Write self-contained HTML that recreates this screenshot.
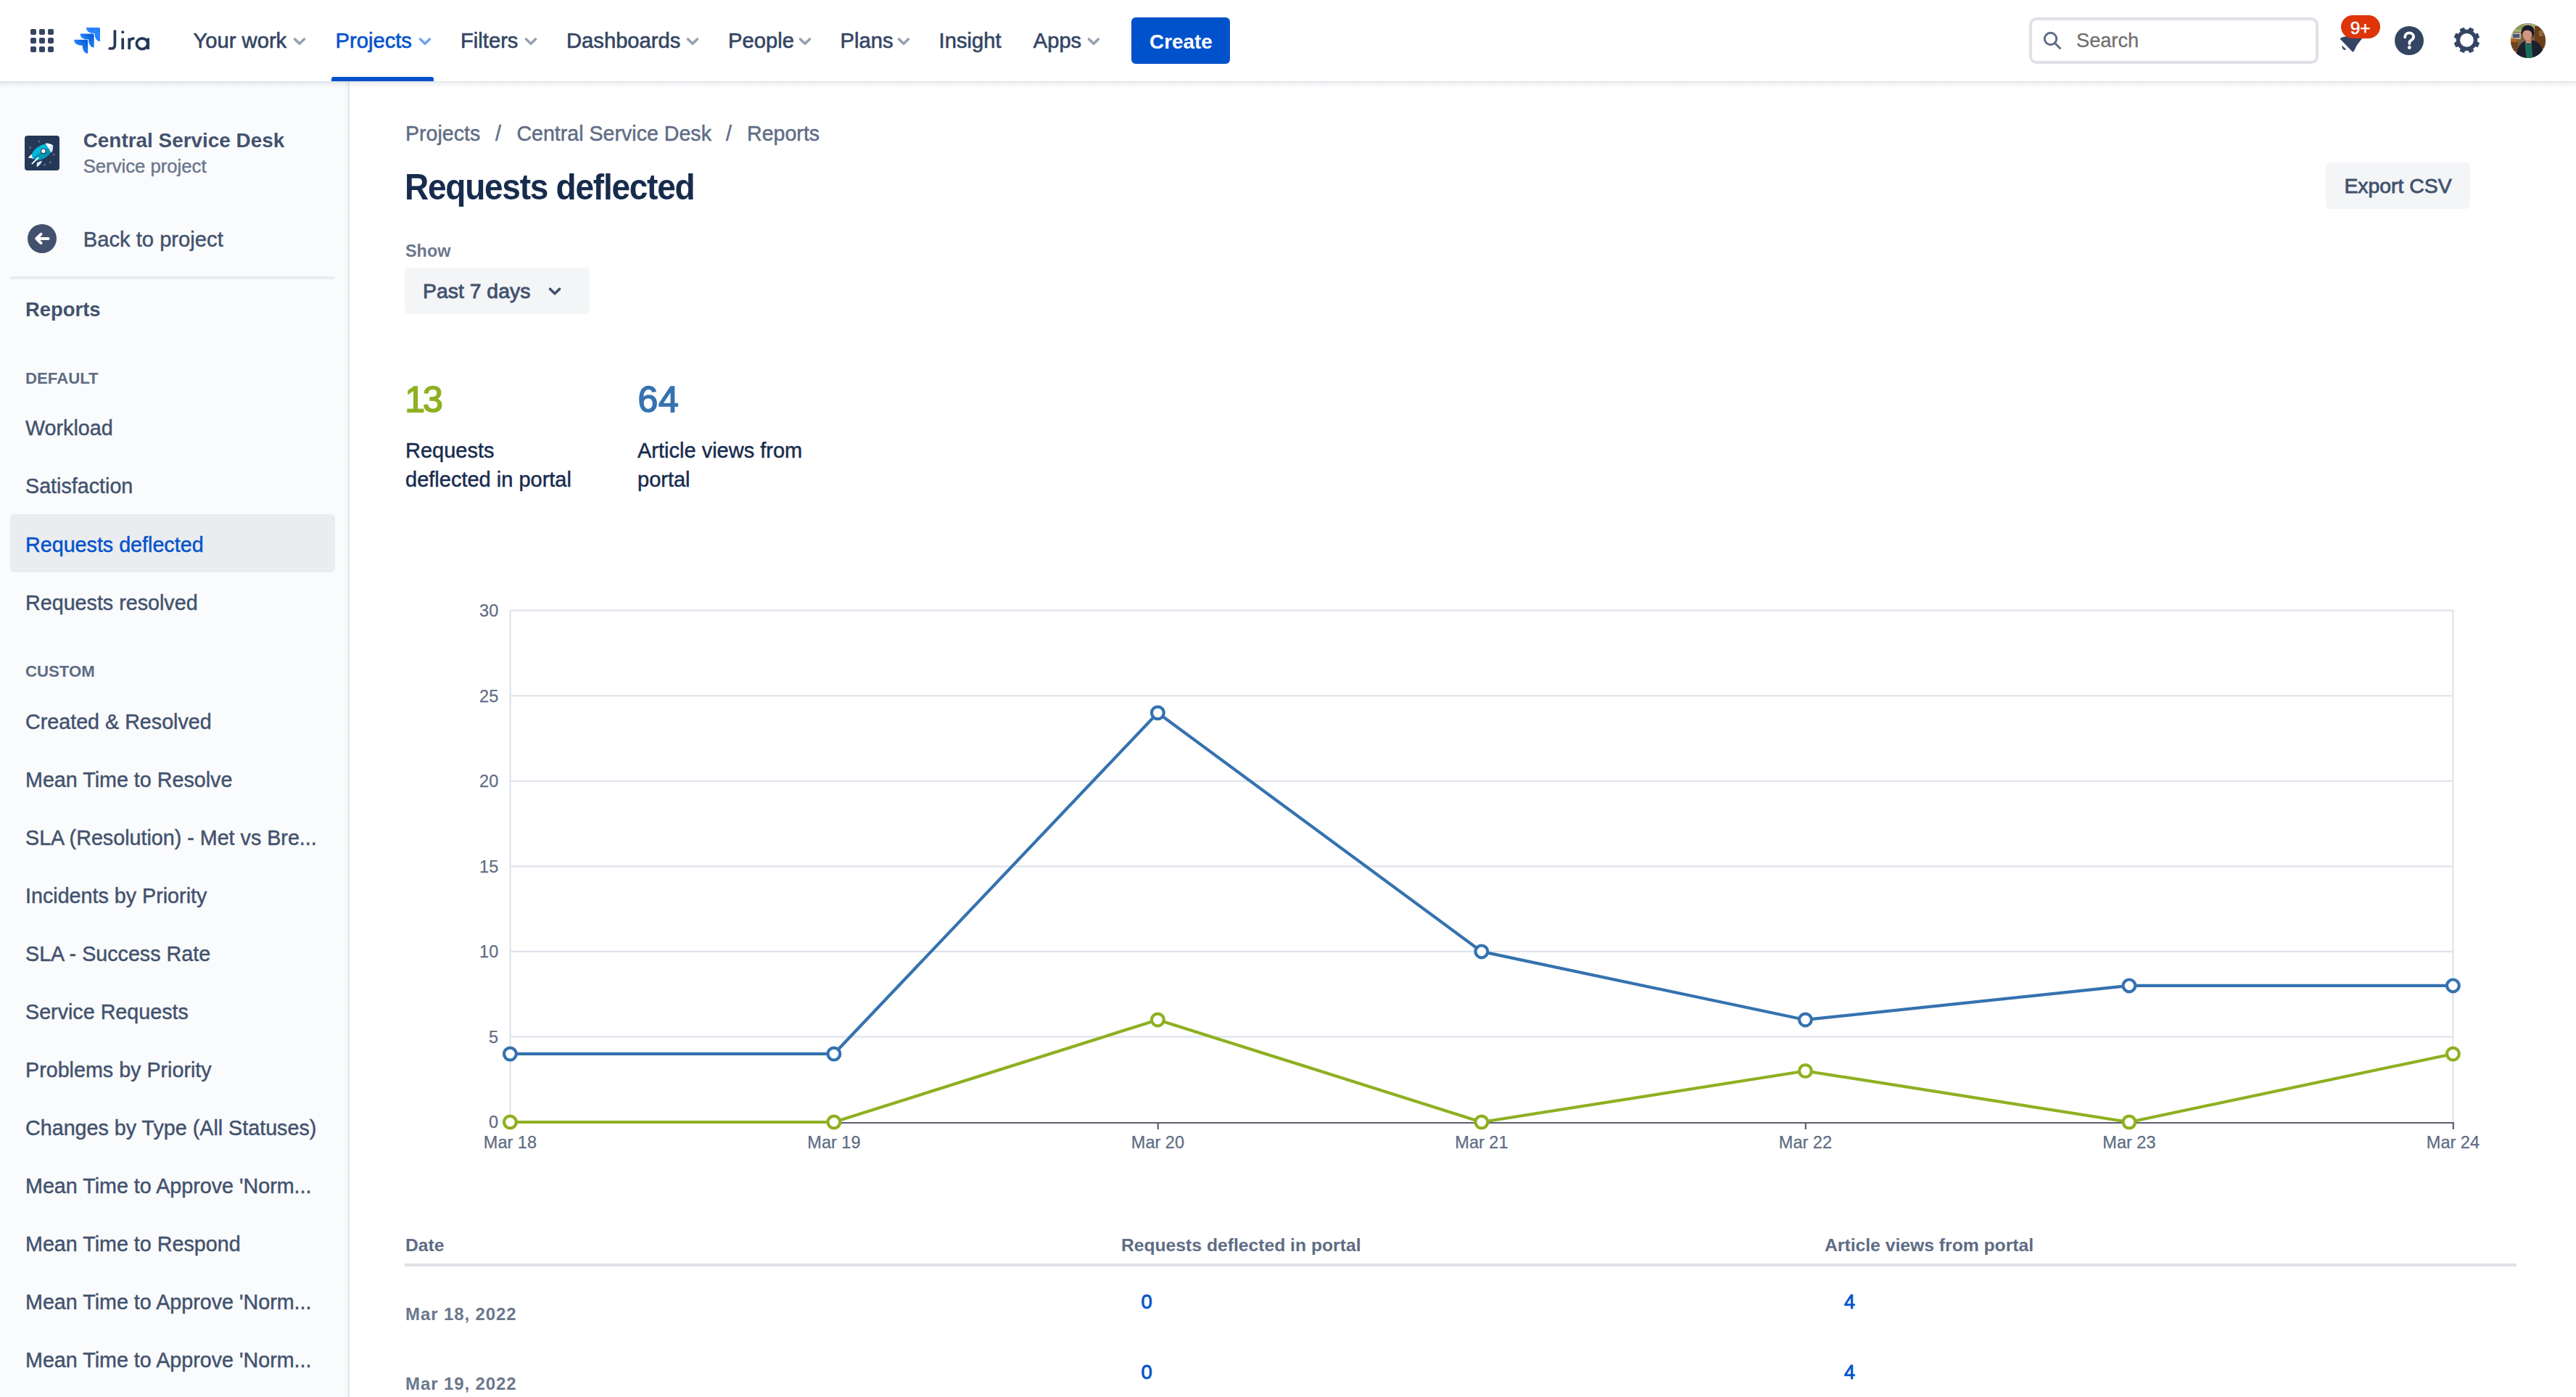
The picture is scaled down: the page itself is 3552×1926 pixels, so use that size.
<!DOCTYPE html>
<html><head><meta charset="utf-8"><title>Requests deflected - Jira</title>
<style>
html,body{margin:0;padding:0;width:3552px;height:1926px;overflow:hidden;background:#fff;}
body{position:relative;font-family:"Liberation Sans",sans-serif;}
.t{position:absolute;white-space:nowrap;}
.a{position:absolute;}
</style></head><body>
<div class="a" style="left:0;top:112px;width:480px;height:1814px;background:#FAFBFC;"></div>
<div class="a" style="left:474px;top:112px;width:6px;height:1814px;background:linear-gradient(to right,rgba(9,30,66,0),rgba(9,30,66,0.03));"></div>
<div class="a" style="left:480px;top:112px;width:2px;height:1814px;background:#E4E6EA;"></div>
<div class="a" style="left:0;top:0;width:3552px;height:112px;background:#fff;"></div>
<div class="a" style="left:0;top:112px;width:3552px;height:9px;background:linear-gradient(to bottom,rgba(9,30,66,0.13),rgba(9,30,66,0.06) 30%,rgba(9,30,66,0));"></div>
<div class="a" style="left:42px;top:40px;width:8px;height:8px;border-radius:2px;background:#344563;"></div>
<div class="a" style="left:54px;top:40px;width:8px;height:8px;border-radius:2px;background:#344563;"></div>
<div class="a" style="left:66px;top:40px;width:8px;height:8px;border-radius:2px;background:#344563;"></div>
<div class="a" style="left:42px;top:52px;width:8px;height:8px;border-radius:2px;background:#344563;"></div>
<div class="a" style="left:54px;top:52px;width:8px;height:8px;border-radius:2px;background:#344563;"></div>
<div class="a" style="left:66px;top:52px;width:8px;height:8px;border-radius:2px;background:#344563;"></div>
<div class="a" style="left:42px;top:64px;width:8px;height:8px;border-radius:2px;background:#344563;"></div>
<div class="a" style="left:54px;top:64px;width:8px;height:8px;border-radius:2px;background:#344563;"></div>
<div class="a" style="left:66px;top:64px;width:8px;height:8px;border-radius:2px;background:#344563;"></div>
<svg class="a" style="left:96px;top:32px;" width="50" height="48" viewBox="96 32 50 48"><defs><linearGradient id="jg" x1="1" y1="0" x2="0.35" y2="0.6"><stop offset="0" stop-color="#0052CC"/><stop offset="1" stop-color="#2684FF"/></linearGradient></defs><path transform="translate(119,38)" d="M0,0 L17.5,0 Q19,0 19,1.5 L19,19 C14,19 11.5,14 11.5,8 C4,8 0,5 0,0 Z" fill="#2684FF"/><path transform="translate(110.6,46.4)" d="M0,0 L17.5,0 Q19,0 19,1.5 L19,19 C14,19 11.5,14 11.5,8 C4,8 0,5 0,0 Z" fill="url(#jg)"/><path transform="translate(102.2,54.8)" d="M0,0 L17.5,0 Q19,0 19,1.5 L19,19 C14,19 11.5,14 11.5,8 C4,8 0,5 0,0 Z" fill="url(#jg)"/></svg>
<svg class="a" style="left:146px;top:36px;" width="66" height="40" viewBox="146 36 66 40" fill="none" stroke="#253858" stroke-width="3.7"><path d="M158.4,41.5 V61.5 C158.4,65.5 156,67 153.5,67 C152,67 150.8,66.6 150,66"/><path d="M169.2,52.5 V68"/><circle cx="169.2" cy="44.2" r="2" fill="#253858" stroke="none"/><path d="M178.2,68 V52.5 M178.2,57.5 C179.5,54 182,52.8 185.5,53"/><path d="M204.2,52.5 V68"/><ellipse cx="196" cy="60.2" rx="7.6" ry="7.4"/></svg>
<div class="t" style="left:266.50px;top:38.80px;font-size:29.2px;line-height:35px;color:#344563;-webkit-text-stroke:0.6px #344563;">Your work</div>
<svg class="a" style="left:403px;top:50px;" width="20" height="14" viewBox="0 0 20 14"><path d="M3.5,4 L10,10.2 L16.5,4" fill="none" stroke="#97A0AF" stroke-width="3.6" stroke-linecap="round" stroke-linejoin="round"/></svg>
<div class="t" style="left:462.50px;top:38.80px;font-size:29.2px;line-height:35px;color:#0052CC;-webkit-text-stroke:0.6px #0052CC;">Projects</div>
<svg class="a" style="left:576px;top:50px;" width="20" height="14" viewBox="0 0 20 14"><path d="M3.5,4 L10,10.2 L16.5,4" fill="none" stroke="#70A4F0" stroke-width="3.6" stroke-linecap="round" stroke-linejoin="round"/></svg>
<div class="t" style="left:635.00px;top:38.80px;font-size:29.2px;line-height:35px;color:#344563;-webkit-text-stroke:0.6px #344563;">Filters</div>
<svg class="a" style="left:721.6px;top:50px;" width="20" height="14" viewBox="0 0 20 14"><path d="M3.5,4 L10,10.2 L16.5,4" fill="none" stroke="#97A0AF" stroke-width="3.6" stroke-linecap="round" stroke-linejoin="round"/></svg>
<div class="t" style="left:781.00px;top:38.80px;font-size:29.2px;line-height:35px;color:#344563;-webkit-text-stroke:0.6px #344563;">Dashboards</div>
<svg class="a" style="left:945px;top:50px;" width="20" height="14" viewBox="0 0 20 14"><path d="M3.5,4 L10,10.2 L16.5,4" fill="none" stroke="#97A0AF" stroke-width="3.6" stroke-linecap="round" stroke-linejoin="round"/></svg>
<div class="t" style="left:1004.00px;top:38.80px;font-size:29.2px;line-height:35px;color:#344563;-webkit-text-stroke:0.6px #344563;">People</div>
<svg class="a" style="left:1100px;top:50px;" width="20" height="14" viewBox="0 0 20 14"><path d="M3.5,4 L10,10.2 L16.5,4" fill="none" stroke="#97A0AF" stroke-width="3.6" stroke-linecap="round" stroke-linejoin="round"/></svg>
<div class="t" style="left:1158.60px;top:38.80px;font-size:29.2px;line-height:35px;color:#344563;-webkit-text-stroke:0.6px #344563;">Plans</div>
<svg class="a" style="left:1236px;top:50px;" width="20" height="14" viewBox="0 0 20 14"><path d="M3.5,4 L10,10.2 L16.5,4" fill="none" stroke="#97A0AF" stroke-width="3.6" stroke-linecap="round" stroke-linejoin="round"/></svg>
<div class="t" style="left:1294.60px;top:38.80px;font-size:29.2px;line-height:35px;color:#344563;-webkit-text-stroke:0.6px #344563;">Insight</div>
<div class="t" style="left:1424.70px;top:38.80px;font-size:29.2px;line-height:35px;color:#344563;-webkit-text-stroke:0.6px #344563;">Apps</div>
<svg class="a" style="left:1498px;top:50px;" width="20" height="14" viewBox="0 0 20 14"><path d="M3.5,4 L10,10.2 L16.5,4" fill="none" stroke="#97A0AF" stroke-width="3.6" stroke-linecap="round" stroke-linejoin="round"/></svg>
<div class="a" style="left:457px;top:106px;width:141px;height:6px;background:#0052CC;border-radius:3px 3px 0 0;"></div>
<div class="a" style="left:1560px;top:24px;width:136px;height:64px;background:#0052CC;border-radius:6px;"></div>
<div class="t" style="left:1585.00px;top:40.60px;font-size:27.9px;line-height:33px;color:#FFFFFF;font-weight:700;">Create</div>
<div class="a" style="left:2798px;top:24px;width:391px;height:56px;border:4px solid #DFE1E6;border-radius:10px;background:#fff;"></div>
<svg class="a" style="left:2814px;top:40px;" width="32" height="32" viewBox="0 0 32 32"><circle cx="13.5" cy="13.5" r="8.2" fill="none" stroke="#5E6C84" stroke-width="3"/><path d="M19.5,19.5 L26.5,26.5" stroke="#5E6C84" stroke-width="3" stroke-linecap="round"/></svg>
<div class="t" style="left:2863.00px;top:39.00px;font-size:27.2px;line-height:33px;color:#707070;-webkit-text-stroke:0.3px #707070;">Search</div>
<svg class="a" style="left:3215px;top:15px;" width="80" height="70" viewBox="3215 15 80 70"><path d="M3226.3,53.3 C3232,50 3238,49.5 3244,50 L3257,53 C3254.5,57 3251,60 3249,64 C3247.5,67 3246.5,70 3245,71.3 C3244.5,71.8 3244,71.6 3243.6,71.2 Z" fill="#344563"/><path d="M3230.2,62 C3229,64 3229.3,66.5 3231,68 C3232.5,69.2 3234.5,69 3236,68 Z" fill="#344563"/><path d="M3229,61 L3237,69" stroke="#fff" stroke-width="1.6"/></svg>
<div class="a" style="left:3228px;top:21px;width:54px;height:32px;border-radius:16px;background:#DE350B;"></div>
<div class="t" style="left:3240.80px;top:23.60px;font-size:24.4px;line-height:29px;color:#FFFFFF;-webkit-text-stroke:0.5px #FFFFFF;">9+</div>
<svg class="a" style="left:3300px;top:34px;" width="44" height="44" viewBox="0 0 44 44"><circle cx="22" cy="22" r="20" fill="#344563"/><path d="M16.2,17.2 C16.2,13.6 18.8,11.3 22.2,11.3 C25.6,11.3 28,13.5 28,16.6 C28,19.4 26.4,20.6 24.6,21.6 C23.2,22.4 22.4,23.2 22.4,24.8 V26" fill="none" stroke="#fff" stroke-width="3.8" stroke-linecap="round"/><circle cx="22.3" cy="31.5" r="2.4" fill="#fff"/></svg>
<svg class="a" style="left:3375px;top:30px;" width="55" height="50" viewBox="3375 30 55 50"><path d="M3401.40,41.20 L3404.06,41.04 L3405.36,38.25 L3410.73,40.47 L3409.67,43.37 L3411.44,45.36 L3411.44,45.36 L3413.43,47.13 L3416.33,46.07 L3418.55,51.44 L3415.76,52.74 L3415.60,55.40 L3415.60,55.40 L3415.76,58.06 L3418.55,59.36 L3416.33,64.73 L3413.43,63.67 L3411.44,65.44 L3411.44,65.44 L3409.67,67.43 L3410.73,70.33 L3405.36,72.55 L3404.06,69.76 L3401.40,69.60 L3401.40,69.60 L3398.74,69.76 L3397.44,72.55 L3392.07,70.33 L3393.13,67.43 L3391.36,65.44 L3391.36,65.44 L3389.37,63.67 L3386.47,64.73 L3384.25,59.36 L3387.04,58.06 L3387.20,55.40 L3387.20,55.40 L3387.04,52.74 L3384.25,51.44 L3386.47,46.07 L3389.37,47.13 L3391.36,45.36 L3391.36,45.36 L3393.13,43.37 L3392.07,40.47 L3397.44,38.25 L3398.74,41.04 L3401.40,41.20 Z M3411.20,55.4 A9.8,9.8 0 1,0 3391.60,55.4 A9.8,9.8 0 1,0 3411.20,55.4 Z" fill="#344563" fill-rule="evenodd" stroke="#344563" stroke-width="1" stroke-linejoin="round"/></svg>
<svg class="a" style="left:3462px;top:32px;" width="48" height="48" viewBox="0 0 48 48"><defs><clipPath id="av"><circle cx="24" cy="24" r="24"/></clipPath></defs><g clip-path="url(#av)"><rect width="48" height="48" fill="#7A6240"/><rect x="0" y="0" width="48" height="12" fill="#A9AE78"/><rect x="8" y="0" width="10" height="9" fill="#8C9A5A"/><rect x="0" y="13" width="14" height="9" fill="#B8B09A"/><rect x="3" y="15" width="9" height="5" fill="#4A5A70"/><ellipse cx="4" cy="23.5" rx="5" ry="2.6" fill="#B8601A"/><rect x="0" y="26" width="10" height="12" fill="#6B4420"/><rect x="33" y="4" width="15" height="30" fill="#6A3E18"/><rect x="39" y="10" width="6" height="8" fill="#8A6A40"/><path d="M7,48 C8,36 12,28 19.5,24.5 L30,23.5 C38,25 43,31 46,42 L46,48 Z" fill="#1C1F30"/><path d="M20.5,21 L28.5,21 L28.5,28 L20.5,28 Z" fill="#C08A74"/><path d="M19.5,27 L24,29.5 L28.5,27 L30.5,48 L21.5,48 Z" fill="#1B6E5A"/><ellipse cx="22.8" cy="15.3" rx="6.2" ry="8.4" fill="#D19782"/><path d="M14.8,15 C14,7.5 17.5,2.8 23.5,2.8 C29.5,2.8 33,6.5 32.6,13 C32.4,16.5 31.2,19.5 30,19.5 C30,13.5 28,9.8 23,9.8 C18.8,9.8 16.8,11.5 16,15.5 Z" fill="#1A1C2A"/></g></svg>
<svg class="a" style="left:34px;top:187px;" width="48" height="48" viewBox="0 0 48 48"><rect width="48" height="48" rx="4" fill="#253858"/><g fill="#5E6C84"><circle cx="20" cy="7.9" r="1.5"/><circle cx="7.7" cy="16.5" r="1.5"/><circle cx="40.2" cy="26" r="1.5"/><circle cx="35.4" cy="36.7" r="1.5"/><circle cx="27.5" cy="40" r="1.5"/></g><path d="M4.7,31 C6.5,28 9,25.8 12.8,24.3 L12,32.2 C9.5,30.9 7,30.6 4.7,31 Z" fill="#fff"/><path d="M16.8,43.4 C16.4,40.5 16.6,38.6 17.4,37 L24,34.6 C23,38.3 20.6,41.4 16.8,43.4 Z" fill="#DEEBFF"/><g transform="rotate(-32 24.6 22.3)"><path d="M8.6,22.3 C8.6,16.2 15.5,13.4 24,13.4 C31.5,13.4 37.5,16.5 41.6,22.3 Z" fill="#00B8D9"/><path d="M8.6,22.3 C8.6,28.4 15.5,31.2 24,31.2 C31.5,31.2 37.5,28.1 41.6,22.3 Z" fill="#0095B3"/><path d="M34.2,14.6 C37.3,16 39.7,18.5 41.6,22.3 L34.2,22.3 Z" fill="#fff"/><path d="M34.2,30 C37.3,28.6 39.7,26.1 41.6,22.3 L34.2,22.3 Z" fill="#DEEBFF"/></g><path d="M9.2,38.6 L18.2,29.2 L20,30.8 L10.6,39.8 Z" fill="#EAF2FF"/><circle cx="25.8" cy="21.3" r="3.3" fill="#fff" stroke="#253858" stroke-width="1.1"/></svg>
<div class="t" style="left:114.70px;top:176.70px;font-size:27.9px;line-height:33px;color:#42526E;font-weight:700;">Central Service Desk</div>
<div class="t" style="left:114.70px;top:214.00px;font-size:25.7px;line-height:31px;color:#6B778C;-webkit-text-stroke:0.45px #6B778C;">Service project</div>
<svg class="a" style="left:38px;top:309px;" width="40" height="40" viewBox="0 0 40 40"><circle cx="20" cy="20" r="20" fill="#42526E"/><path d="M28.5,20 H12.5 M18.5,13.8 L12.3,20 L18.5,26.2" fill="none" stroke="#fff" stroke-width="4" stroke-linecap="round" stroke-linejoin="round"/></svg>
<div class="t" style="left:114.70px;top:312.50px;font-size:29.2px;line-height:35px;color:#42526E;-webkit-text-stroke:0.45px #42526E;">Back to project</div>
<div class="a" style="left:14px;top:381px;width:448px;height:4px;border-radius:2px;background:#EBECF0;"></div>
<div class="t" style="left:35.00px;top:409.70px;font-size:27.4px;line-height:33px;color:#42526E;font-weight:700;">Reports</div>
<div class="t" style="left:35.00px;top:508.30px;font-size:22.2px;line-height:27px;color:#5E6C84;font-weight:700;">DEFAULT</div>
<div class="a" style="left:14px;top:709px;width:448px;height:80px;border-radius:6px;background:#EBECF0;"></div>
<div class="t" style="left:35.00px;top:573.30px;font-size:28.7px;line-height:34px;color:#42526E;-webkit-text-stroke:0.45px #42526E;">Workload</div>
<div class="t" style="left:35.00px;top:653.47px;font-size:28.7px;line-height:34px;color:#42526E;-webkit-text-stroke:0.45px #42526E;">Satisfaction</div>
<div class="t" style="left:35.00px;top:733.64px;font-size:28.7px;line-height:34px;color:#0052CC;-webkit-text-stroke:0.45px #0052CC;">Requests deflected</div>
<div class="t" style="left:35.00px;top:813.81px;font-size:28.7px;line-height:34px;color:#42526E;-webkit-text-stroke:0.45px #42526E;">Requests resolved</div>
<div class="t" style="left:35.00px;top:912.00px;font-size:22.2px;line-height:27px;color:#5E6C84;font-weight:700;">CUSTOM</div>
<div class="t" style="left:35.00px;top:977.60px;font-size:28.7px;line-height:34px;color:#42526E;-webkit-text-stroke:0.45px #42526E;">Created &amp; Resolved</div>
<div class="t" style="left:35.00px;top:1057.60px;font-size:28.7px;line-height:34px;color:#42526E;-webkit-text-stroke:0.45px #42526E;">Mean Time to Resolve</div>
<div class="t" style="left:35.00px;top:1137.60px;font-size:28.7px;line-height:34px;color:#42526E;-webkit-text-stroke:0.45px #42526E;">SLA (Resolution) - Met vs Bre...</div>
<div class="t" style="left:35.00px;top:1217.60px;font-size:28.7px;line-height:34px;color:#42526E;-webkit-text-stroke:0.45px #42526E;">Incidents by Priority</div>
<div class="t" style="left:35.00px;top:1297.60px;font-size:28.7px;line-height:34px;color:#42526E;-webkit-text-stroke:0.45px #42526E;">SLA - Success Rate</div>
<div class="t" style="left:35.00px;top:1377.60px;font-size:28.7px;line-height:34px;color:#42526E;-webkit-text-stroke:0.45px #42526E;">Service Requests</div>
<div class="t" style="left:35.00px;top:1457.60px;font-size:28.7px;line-height:34px;color:#42526E;-webkit-text-stroke:0.45px #42526E;">Problems by Priority</div>
<div class="t" style="left:35.00px;top:1537.60px;font-size:28.7px;line-height:34px;color:#42526E;-webkit-text-stroke:0.45px #42526E;">Changes by Type (All Statuses)</div>
<div class="t" style="left:35.00px;top:1617.60px;font-size:28.7px;line-height:34px;color:#42526E;-webkit-text-stroke:0.45px #42526E;">Mean Time to Approve &#x27;Norm...</div>
<div class="t" style="left:35.00px;top:1697.60px;font-size:28.7px;line-height:34px;color:#42526E;-webkit-text-stroke:0.45px #42526E;">Mean Time to Respond</div>
<div class="t" style="left:35.00px;top:1777.60px;font-size:28.7px;line-height:34px;color:#42526E;-webkit-text-stroke:0.45px #42526E;">Mean Time to Approve &#x27;Norm...</div>
<div class="t" style="left:35.00px;top:1857.60px;font-size:28.7px;line-height:34px;color:#42526E;-webkit-text-stroke:0.45px #42526E;">Mean Time to Approve &#x27;Norm...</div>
<div class="t" style="left:559.00px;top:166.80px;font-size:28.6px;line-height:34px;color:#5E6C84;-webkit-text-stroke:0.45px #5E6C84;">Projects</div>
<div class="t" style="left:683.00px;top:166.80px;font-size:28.6px;line-height:34px;color:#5E6C84;-webkit-text-stroke:0.45px #5E6C84;">/</div>
<div class="t" style="left:712.40px;top:166.80px;font-size:28.6px;line-height:34px;color:#5E6C84;-webkit-text-stroke:0.45px #5E6C84;">Central Service Desk</div>
<div class="t" style="left:1001.00px;top:166.80px;font-size:28.6px;line-height:34px;color:#5E6C84;-webkit-text-stroke:0.45px #5E6C84;">/</div>
<div class="t" style="left:1030.00px;top:166.80px;font-size:28.6px;line-height:34px;color:#5E6C84;-webkit-text-stroke:0.45px #5E6C84;">Reports</div>
<div class="t" style="left:558.30px;top:226.60px;font-size:50.5px;line-height:61px;color:#172B4D;font-weight:700;letter-spacing:-1.4px;transform:scaleX(0.912);transform-origin:0 0;">Requests deflected</div>
<div class="a" style="left:3207px;top:224px;width:199px;height:64px;border-radius:6px;background:#F4F5F7;"></div>
<div class="t" style="left:3232.40px;top:239.10px;font-size:28.4px;line-height:34px;color:#42526E;-webkit-text-stroke:0.8px #42526E;">Export CSV</div>
<div class="t" style="left:559.00px;top:332.30px;font-size:23.4px;line-height:28px;color:#6B778C;font-weight:700;">Show</div>
<div class="a" style="left:558px;top:369px;width:255px;height:64px;border-radius:6px;background:#F4F5F7;"></div>
<div class="t" style="left:583.00px;top:384.00px;font-size:28.4px;line-height:34px;color:#42526E;-webkit-text-stroke:0.8px #42526E;">Past 7 days</div>
<svg class="a" style="left:752px;top:392px;" width="26" height="20" viewBox="0 0 26 20"><path d="M6.5,6.5 L13,12.8 L19.5,6.5" fill="none" stroke="#42526E" stroke-width="3.6" stroke-linecap="round" stroke-linejoin="round"/></svg>
<div class="t" style="left:558.30px;top:520.60px;font-size:50px;line-height:60px;color:#8EB021;letter-spacing:-3px;-webkit-text-stroke:1.6px #8EB021;">13</div>
<div class="t" style="left:879.60px;top:520.60px;font-size:50px;line-height:60px;color:#3572B0;letter-spacing:0.5px;-webkit-text-stroke:1.6px #3572B0;">64</div>
<div class="t" style="left:559.00px;top:603.50px;font-size:29px;line-height:35px;color:#172B4D;-webkit-text-stroke:0.45px #172B4D;">Requests</div>
<div class="t" style="left:559.00px;top:643.70px;font-size:29px;line-height:35px;color:#172B4D;-webkit-text-stroke:0.45px #172B4D;">deflected in portal</div>
<div class="t" style="left:879.00px;top:603.50px;font-size:29px;line-height:35px;color:#172B4D;-webkit-text-stroke:0.45px #172B4D;">Article views from</div>
<div class="t" style="left:879.00px;top:643.70px;font-size:29px;line-height:35px;color:#172B4D;-webkit-text-stroke:0.45px #172B4D;">portal</div>
<svg class="a" style="left:0;top:0;" width="3552" height="1926" viewBox="0 0 3552 1926"><line x1="703.4" y1="1429.45" x2="3382.4" y2="1429.45" stroke="#DFE3EB" stroke-width="2.2"/><line x1="703.4" y1="1311.90" x2="3382.4" y2="1311.90" stroke="#DFE3EB" stroke-width="2.2"/><line x1="703.4" y1="1194.35" x2="3382.4" y2="1194.35" stroke="#DFE3EB" stroke-width="2.2"/><line x1="703.4" y1="1076.80" x2="3382.4" y2="1076.80" stroke="#DFE3EB" stroke-width="2.2"/><line x1="703.4" y1="959.25" x2="3382.4" y2="959.25" stroke="#DFE3EB" stroke-width="2.2"/><line x1="703.4" y1="841.70" x2="3382.4" y2="841.70" stroke="#DFE3EB" stroke-width="2.2"/><line x1="703.6" y1="840.70" x2="703.6" y2="1547" stroke="#DFE3EB" stroke-width="2.2"/><line x1="3382.4" y1="840.70" x2="3382.4" y2="1547" stroke="#DFE3EB" stroke-width="2.2"/><line x1="703.4" y1="1548" x2="3383.4" y2="1548" stroke="#5C606C" stroke-width="2.2"/><line x1="703.80" y1="1547" x2="703.80" y2="1557" stroke="#5C606C" stroke-width="2.2"/><line x1="1150.30" y1="1547" x2="1150.30" y2="1557" stroke="#5C606C" stroke-width="2.2"/><line x1="1596.80" y1="1547" x2="1596.80" y2="1557" stroke="#5C606C" stroke-width="2.2"/><line x1="2043.30" y1="1547" x2="2043.30" y2="1557" stroke="#5C606C" stroke-width="2.2"/><line x1="2489.80" y1="1547" x2="2489.80" y2="1557" stroke="#5C606C" stroke-width="2.2"/><line x1="2936.30" y1="1547" x2="2936.30" y2="1557" stroke="#5C606C" stroke-width="2.2"/><line x1="3382.80" y1="1547" x2="3382.80" y2="1557" stroke="#5C606C" stroke-width="2.2"/><polyline points="703.40,1547.00 1149.90,1547.00 1596.40,1405.94 2042.90,1547.00 2489.40,1476.47 2935.90,1547.00 3382.40,1452.96" fill="none" stroke="#8EB021" stroke-width="4.2" stroke-linejoin="round"/><circle cx="703.40" cy="1547.00" r="8.4" fill="#fff" stroke="#8EB021" stroke-width="4.2"/><circle cx="1149.90" cy="1547.00" r="8.4" fill="#fff" stroke="#8EB021" stroke-width="4.2"/><circle cx="1596.40" cy="1405.94" r="8.4" fill="#fff" stroke="#8EB021" stroke-width="4.2"/><circle cx="2042.90" cy="1547.00" r="8.4" fill="#fff" stroke="#8EB021" stroke-width="4.2"/><circle cx="2489.40" cy="1476.47" r="8.4" fill="#fff" stroke="#8EB021" stroke-width="4.2"/><circle cx="2935.90" cy="1547.00" r="8.4" fill="#fff" stroke="#8EB021" stroke-width="4.2"/><circle cx="3382.40" cy="1452.96" r="8.4" fill="#fff" stroke="#8EB021" stroke-width="4.2"/><polyline points="703.40,1452.96 1149.90,1452.96 1596.40,982.76 2042.90,1311.90 2489.40,1405.94 2935.90,1358.92 3382.40,1358.92" fill="none" stroke="#3572B0" stroke-width="4.2" stroke-linejoin="round"/><circle cx="703.40" cy="1452.96" r="8.4" fill="#fff" stroke="#3572B0" stroke-width="4.2"/><circle cx="1149.90" cy="1452.96" r="8.4" fill="#fff" stroke="#3572B0" stroke-width="4.2"/><circle cx="1596.40" cy="982.76" r="8.4" fill="#fff" stroke="#3572B0" stroke-width="4.2"/><circle cx="2042.90" cy="1311.90" r="8.4" fill="#fff" stroke="#3572B0" stroke-width="4.2"/><circle cx="2489.40" cy="1405.94" r="8.4" fill="#fff" stroke="#3572B0" stroke-width="4.2"/><circle cx="2935.90" cy="1358.92" r="8.4" fill="#fff" stroke="#3572B0" stroke-width="4.2"/><circle cx="3382.40" cy="1358.92" r="8.4" fill="#fff" stroke="#3572B0" stroke-width="4.2"/></svg>
<div class="t" style="left:287.15px;width:400px;text-align:right;top:1533.30px;font-size:23.5px;line-height:28px;color:#5E6C84;-webkit-text-stroke:0.25px #5E6C84;">0</div>
<div class="t" style="left:287.15px;width:400px;text-align:right;top:1415.75px;font-size:23.5px;line-height:28px;color:#5E6C84;-webkit-text-stroke:0.25px #5E6C84;">5</div>
<div class="t" style="left:287.22px;width:400px;text-align:right;top:1298.20px;font-size:23.5px;line-height:28px;color:#5E6C84;-webkit-text-stroke:0.25px #5E6C84;">10</div>
<div class="t" style="left:287.22px;width:400px;text-align:right;top:1180.65px;font-size:23.5px;line-height:28px;color:#5E6C84;-webkit-text-stroke:0.25px #5E6C84;">15</div>
<div class="t" style="left:287.22px;width:400px;text-align:right;top:1063.10px;font-size:23.5px;line-height:28px;color:#5E6C84;-webkit-text-stroke:0.25px #5E6C84;">20</div>
<div class="t" style="left:287.22px;width:400px;text-align:right;top:945.55px;font-size:23.5px;line-height:28px;color:#5E6C84;-webkit-text-stroke:0.25px #5E6C84;">25</div>
<div class="t" style="left:287.22px;width:400px;text-align:right;top:828.00px;font-size:23.5px;line-height:28px;color:#5E6C84;-webkit-text-stroke:0.25px #5E6C84;">30</div>
<div class="t" style="left:666.84px;top:1560.50px;font-size:23.5px;line-height:28px;color:#5E6C84;-webkit-text-stroke:0.25px #5E6C84;">Mar 18</div>
<div class="t" style="left:1113.34px;top:1560.50px;font-size:23.5px;line-height:28px;color:#5E6C84;-webkit-text-stroke:0.25px #5E6C84;">Mar 19</div>
<div class="t" style="left:1559.84px;top:1560.50px;font-size:23.5px;line-height:28px;color:#5E6C84;-webkit-text-stroke:0.25px #5E6C84;">Mar 20</div>
<div class="t" style="left:2006.34px;top:1560.50px;font-size:23.5px;line-height:28px;color:#5E6C84;-webkit-text-stroke:0.25px #5E6C84;">Mar 21</div>
<div class="t" style="left:2452.84px;top:1560.50px;font-size:23.5px;line-height:28px;color:#5E6C84;-webkit-text-stroke:0.25px #5E6C84;">Mar 22</div>
<div class="t" style="left:2899.34px;top:1560.50px;font-size:23.5px;line-height:28px;color:#5E6C84;-webkit-text-stroke:0.25px #5E6C84;">Mar 23</div>
<div class="t" style="left:3345.84px;top:1560.50px;font-size:23.5px;line-height:28px;color:#5E6C84;-webkit-text-stroke:0.25px #5E6C84;">Mar 24</div>
<div class="t" style="left:559.00px;top:1702.40px;font-size:24.7px;line-height:30px;color:#5E6C84;font-weight:700;">Date</div>
<div class="t" style="left:1545.90px;top:1702.40px;font-size:24.7px;line-height:30px;color:#5E6C84;font-weight:700;">Requests deflected in portal</div>
<div class="t" style="left:2516.00px;top:1702.40px;font-size:24.7px;line-height:30px;color:#5E6C84;font-weight:700;">Article views from portal</div>
<div class="a" style="left:558px;top:1742px;width:2912px;height:4px;background:#DFE1E6;"></div>
<div class="t" style="left:559.00px;top:1796.80px;font-size:24px;line-height:29px;color:#6B778C;font-weight:700;letter-spacing:0.9px;">Mar 18, 2022</div>
<div class="t" style="left:1573.40px;top:1777.60px;font-size:27.5px;line-height:33px;color:#0052CC;-webkit-text-stroke:0.8px #0052CC;">0</div>
<div class="t" style="left:2542.70px;top:1777.60px;font-size:27.5px;line-height:33px;color:#0052CC;-webkit-text-stroke:0.8px #0052CC;">4</div>
<div class="t" style="left:559.00px;top:1893.40px;font-size:24px;line-height:29px;color:#6B778C;font-weight:700;letter-spacing:0.9px;">Mar 19, 2022</div>
<div class="t" style="left:1573.40px;top:1874.80px;font-size:27.5px;line-height:33px;color:#0052CC;-webkit-text-stroke:0.8px #0052CC;">0</div>
<div class="t" style="left:2542.70px;top:1874.80px;font-size:27.5px;line-height:33px;color:#0052CC;-webkit-text-stroke:0.8px #0052CC;">4</div>
</body></html>
